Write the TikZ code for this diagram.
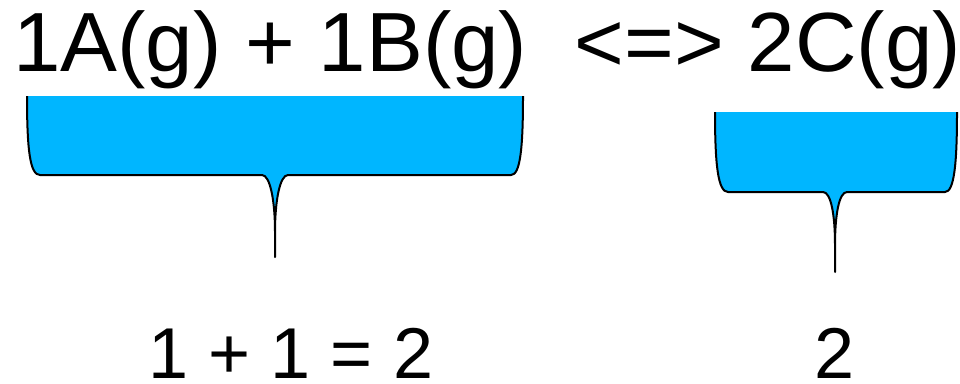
\documentclass[tikz,border=0pt]{standalone}
\usepackage{fontspec}
\setmainfont{Liberation Sans}
\definecolor{bracefill}{RGB}{0,182,255}
\begin{document}
\begin{tikzpicture}[x=1pt,y=-1pt,
  bigtext/.style={font=\fontsize{84}{90}\selectfont, inner sep=0pt, anchor=base west, text height=0.72em, text depth=0pt},
  smalltext/.style={font=\fontsize{72}{80}\selectfont, inner sep=0pt, anchor=base, text height=0.72em, text depth=0pt},
  braceline/.style={draw=black, line width=2pt, line join=round}]
\useasboundingbox (0,0) rectangle (960,383);

% left brace
\fill[bracefill] (27,96) .. controls (27,150) and (30,175) .. (40,175) -- (262,175)
  .. controls (270,175) and (275,200) .. (275,232) -- (275,257) -- (275,232)
  .. controls (275,200) and (280,175) .. (288,175) -- (511,175)
  .. controls (520,175) and (523,150) .. (523,96) -- cycle;
\draw[braceline] (27,96) .. controls (27,150) and (30,175) .. (40,175) -- (262,175)
  .. controls (270,175) and (275,200) .. (275,232) -- (275,257) -- (275,232)
  .. controls (275,200) and (280,175) .. (288,175) -- (511,175)
  .. controls (520,175) and (523,150) .. (523,96);

% right brace
\fill[bracefill] (715,112) .. controls (715,165) and (718,192) .. (728,192) -- (823,192)
  .. controls (831,192) and (835,215) .. (835,245) -- (835,272) -- (835,245)
  .. controls (835,215) and (839,192) .. (847,192) -- (945,192)
  .. controls (954,192) and (957,165) .. (957,112) -- cycle;
\draw[braceline] (715,112) .. controls (715,165) and (718,192) .. (728,192) -- (823,192)
  .. controls (831,192) and (835,215) .. (835,245) -- (835,272) -- (835,245)
  .. controls (835,215) and (839,192) .. (847,192) -- (945,192)
  .. controls (954,192) and (957,165) .. (957,112);

\node[bigtext, xscale=1.015] (eq) at (13,71.7) {1A(g) + 1B(g)\ \ <=> 2C(g)};
\node[smalltext] (sumL) at (291,378) {1 + 1 = 2};
\node[smalltext] (sumR) at (835,378) {2};
\end{tikzpicture}
\end{document}
